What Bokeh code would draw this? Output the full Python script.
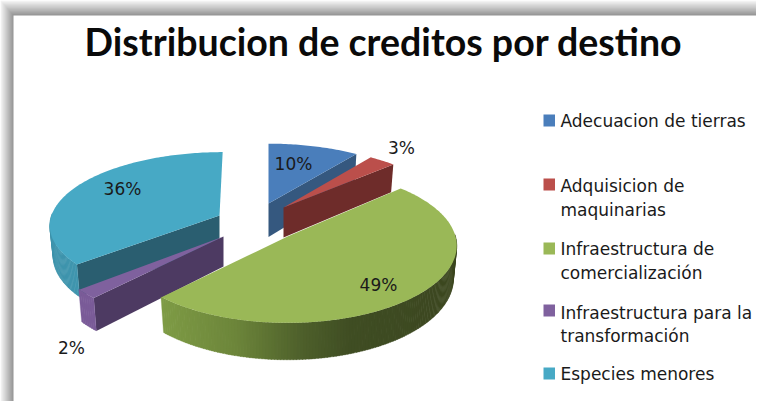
from bokeh.plotting import figure
from bokeh.models import Range1d
from bokeh.core.properties import value
from bokeh.embed import file_html
from bokeh.resources import INLINE
import math

title = "Distribucion de creditos por destino"
categories = ["Adecuacion de tierras", "Adquisicion de\nmaquinarias", "Infraestructura de\ncomercialización",
              "Infraestructura para la\ntransformación", "Especies menores"]
percent = [10, 3, 49, 2, 36]

top_colors = ["#4a7ebb", "#bb4f4b", "#9ab857", "#7f619e", "#47a9c5"]
wall_colors = ["#35587f", "#6e2c2a", "#3e4a22", "#4d3a62", "#2a5e70"]
arc_colors = ["#35587f", "#6e2c2a", None, "#7a5b98", "#3f95ae"]
# layout of each exploded slice: apex x, apex y, radius x, radius y, depth, shear
geometry = [(268, 203, 164, 67, 33.5, 0), (283, 207, 163, 68, 30, 0), (287, 236, 168, 76, 32.5, 0),
            (223, 236, 173, 77, 30, 0), (219, 215, 168, 71, 30, -0.05)]
label_pos = [(293, 163), (401, 147), (378, 284), (71, 347), (122, 188)]
legend_box_y = [120, 184, 248, 310, 373]
legend_line_y = [[120], [185, 209.5], [248, 272.5], [312, 335.5], [373]]
K = 0.12

p = figure(width=756, height=401, output_backend="svg", toolbar_location=None,
           x_range=Range1d(0, 756), y_range=Range1d(401, 0), min_border=0)
p.axis.visible = False
p.grid.visible = False
p.outline_line_color = None
p.background_fill_color = "white"
p.border_fill_color = "white"


def hx(c):
    return [int(c[i:i + 2], 16) for i in (1, 3, 5)]


def mix(a, b, t):
    ca, cb = hx(a), hx(b)
    return "#%02x%02x%02x" % tuple(round(x + (y - x) * t) for x, y in zip(ca, cb))


# window frame shadow: nested rectangles, outermost first
for i in range(14):
    t = i / 13
    p.quad(left=[i], right=[764], top=[i * 15 / 13], bottom=[409], fill_color=mix("#f4f4f4", "#8e8e8e", t), line_color=None)
p.quad(left=[13], right=[764], top=[15], bottom=[409], fill_color="white", line_color=None)


def project(th, R, Ry, cx, cy, shear, bottom=0.0, bscale=1.0):
    u, v = math.sin(th), -math.cos(th)
    w = 1 - K * v
    X, Y = R * bscale * u / w, Ry * v / w
    return cx + X + shear * Y, cy + Y + bottom / w


def edge(th, g):
    cx, cy, R, Ry, D, s = g
    a = (cx, cy)
    b = project(th, R, Ry, cx, cy, s)
    c = project(th, R, Ry, cx, cy, s, D, 0.98)
    d = (cx, cy + D)
    return [a[0], b[0], c[0], d[0]], [a[1], b[1], c[1], d[1]]


green_stops = [(161, "#7e9b45"), (235, "#6c853a"), (300, "#4e602b"), (350, "#3f4d23"), (458, "#3c4720")]


def green_shade(x):
    for (x0, c0), (x1, c1) in zip(green_stops, green_stops[1:]):
        if x <= x1:
            return mix(c0, c1, max(0, (x - x0) / (x1 - x0)))
    return green_stops[-1][1]


# cumulative angles from the values, clockwise from 12 o'clock
total = sum(percent)
ang = [0]
for v in percent:
    ang.append(ang[-1] + v / total * 360)

for i in [4, 0, 1, 3, 2]:
    g = geometry[i]
    cx, cy, R, Ry, D, s = g
    a, b = math.radians(ang[i]), math.radians(ang[i + 1])
    # straight walls facing the viewer
    if ang[i] > 180:
        xs, ys = edge(a, g)
        p.patch(xs, ys, fill_color=wall_colors[i], line_color=None)
    if ang[i + 1] < 180:
        xs, ys = edge(b, g)
        p.patch(xs, ys, fill_color=wall_colors[i], line_color=None)
    # arc wall
    lo, hi = max(a, math.radians(88)), min(b, math.radians(272))
    if hi > lo:
        n = max(2, int((hi - lo) * 60))
        for j in range(n):
            t0 = lo + (hi - lo) * j / n
            t1 = lo + (hi - lo) * (j + 1) / n + 0.004
            p0, p1 = project(t0, R, Ry, cx, cy, s), project(t1, R, Ry, cx, cy, s)
            q0 = project(t0, R, Ry, cx, cy, s, D, 0.98)
            q1 = project(t1, R, Ry, cx, cy, s, D, 0.98)
            col = arc_colors[i] or green_shade((p0[0] + p1[0]) / 2)
            p.patch([p0[0], p1[0], q1[0], q0[0]], [p0[1], p1[1], q1[1], q0[1]], fill_color=col, line_color=col, line_width=0.3)
    # top face
    n = max(3, int((b - a) * 60))
    pts = [project(a + (b - a) * j / n, R, Ry, cx, cy, s) for j in range(n + 1)]
    p.patch([cx] + [q[0] for q in pts], [cy] + [q[1] for q in pts], fill_color=top_colors[i], line_color=None)

p.text([383], [41], text=[title], text_font=value("Lato"), text_font_style="bold", text_font_size="37.5px",
       text_align="center", text_baseline="middle", text_color="#0a0a0a")

p.text([q[0] for q in label_pos], [q[1] for q in label_pos], text=[f"{v}%" for v in percent],
       text_font=value("DejaVu Sans"), text_font_size="17px", text_align="center", text_baseline="middle",
       text_color="#1a1a1a")

for c, name, by, ly in zip(top_colors, categories, legend_box_y, legend_line_y):
    p.quad(left=[543], right=[554.5], top=[by - 6], bottom=[by + 6], fill_color=c, line_color=None)
    for line, y in zip(name.split("\n"), ly):
        p.text([560], [y], text=[line], text_font=value("DejaVu Sans"), text_font_size="17px",
               text_align="left", text_baseline="middle", text_color="#1a1a1a")

open("out.html", "w").write(file_html(p, INLINE))
